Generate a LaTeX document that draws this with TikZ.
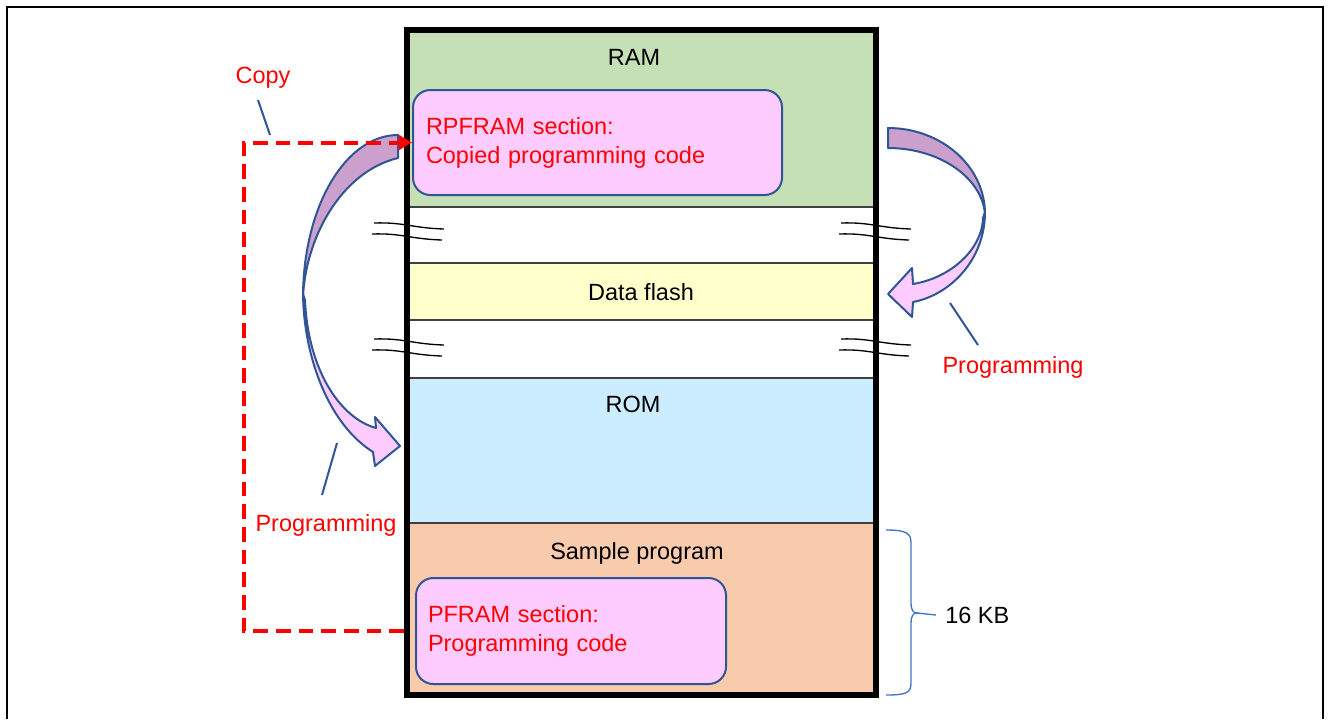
\documentclass[tikz,border=0pt]{standalone}
\usepackage{fontspec}
\setmainfont{Liberation Sans}
\usetikzlibrary{arrows.meta}

\definecolor{ramgreen}{RGB}{197,224,180}
\definecolor{flashyellow}{RGB}{255,255,204}
\definecolor{romblue}{RGB}{204,236,255}
\definecolor{progorange}{RGB}{248,203,173}
\definecolor{secpink}{RGB}{255,204,255}
\definecolor{bandpurple}{RGB}{204,160,204}
\definecolor{bandblue}{RGB}{47,85,151}
\definecolor{braceblue}{RGB}{68,114,196}
\definecolor{sepgray}{RGB}{64,64,64}

\begin{document}
\begin{tikzpicture}[x=0.75pt,y=0.75pt,yscale=-1,xscale=1,
  lbl/.style={inner sep=0.75pt,font=\fontsize{17.6}{21.75}\selectfont},
  redlbl/.style={lbl,text=red},
  secbox/.style={lbl,draw=bandblue,line width=1.5pt,fill=secpink,rounded corners=13pt,text=red,align=left},
  sepline/.style={draw=sepgray,line width=1.5pt},
  brk/.style={draw=black,line width=1pt},
  band/.style={draw=bandblue,line width=1.5pt,line join=round},
  callout/.style={draw=bandblue,line width=1.5pt},
  copyline/.style={draw=red,line width=3pt,dash pattern=on 11pt off 6pt,-{Triangle[length=10pt,width=11pt]}},
  kbbrace/.style={draw=braceblue,line width=1pt}]
\useasboundingbox (0,0) rectangle (1330,719);

% outer frame
\draw [line width=1.5pt] (7,719) -- (7,7) -- (1323,7) -- (1323,719);

%Shape: memory regions
\fill [ramgreen] (407,30) rectangle (876,207);
\fill [flashyellow] (407,263) rectangle (876,320);
\fill [romblue] (407,378) rectangle (876,523);
\fill [progorange] (407,523) rectangle (876,695);
\draw [sepline] (407,207) -- (876,207);
\draw [sepline] (407,263) -- (876,263);
\draw [sepline] (407,320) -- (876,320);
\draw [sepline] (407,378) -- (876,378);
\draw [sepline] (407,523) -- (876,523);

% break marks
\foreach \bx/\by in {374/223, 372/234, 374/339, 372/350, 841/223, 839/234, 841/339, 839/350}
  \draw [brk] (\bx,\by) .. controls ({\bx+30},{\by-1}) and ({\bx+38},{\by+5}) .. ({\bx+70},{\by+6});

%Shape: memory outline
\draw [line width=4.1pt] (407,30) rectangle (876,695);

% Text Node
\node [lbl] (ram) at (634,57) {RAM};
\node [lbl] (dflash) at (641,292) {Data flash};
\node [lbl] (rom) at (633,404) {ROM};
\node [lbl] (sample) at (637,553) {Sample program};

%Shape: section boxes
\node [secbox,text width=257.25pt,inner xsep=9.75pt,minimum height=78.75pt] (rpfram) at (597.5,142.5) {RPFRAM section:\\Copied programming code};
\node [secbox,text width=214.5pt,inner xsep=9pt,minimum height=79.5pt] (pfram) at (571,631) {PFRAM section:\\Programming code};

%Curve Arrow: left, flash to ROM
\draw [band,fill=secpink] (303,294) .. controls (304,360) and (330,425) .. (373,452) -- (375,466) -- (400,446) -- (375,417) -- (376,428) .. controls (340,418) and (308,370) .. (305,300) -- cycle;
\draw [band,fill=bandpurple] (398,135) .. controls (346,135) and (303,206) .. (303,298) .. controls (305,240) and (340,172) .. (398,158) -- cycle;

%Curve Arrow: right, to data flash
\draw [band,fill=secpink] (985,212) .. controls (985,260) and (950,295) .. (913,302) -- (912,317) -- (888,294) -- (912,268) -- (913,284) .. controls (950,278) and (982,250) .. (983,218) -- cycle;
\draw [band,fill=bandpurple] (888,128) .. controls (941,128) and (985,166) .. (985,214) .. controls (982,178) and (940,148) .. (888,148) -- cycle;

% copy path
\coordinate (cpy) at (244,0);
\draw [copyline] ([xshift=-8.25pt]pfram.west) -| (cpy |- rpfram.west) -- (rpfram.west);

% Text Node
\node [redlbl] (copy) at (263,78) {Copy};
\node [redlbl] (prgr) at (1013,367) {Programming};
\node [redlbl] (prgl) at (326,525) {Programming};

% callouts
\coordinate (copya) at (258,100);
\coordinate (copyb) at (270,135);
\coordinate (prgra) at (978,345);
\coordinate (prgrb) at (950,303);
\coordinate (prgla) at (322,495);
\coordinate (prglb) at (337,443);
\draw [callout] (copya) -- (copyb);
\draw [callout] (prgra) -- (prgrb);
\draw [callout] (prgla) -- (prglb);

% brace, 16 KB
\coordinate (kbtip) at (917,613);
\draw [kbbrace] (886,530) .. controls (906,530) and (911,533) .. (911,543) -- (911,602) .. controls (911,610) and (913,613) .. (kbtip) .. controls (913,613) and (911,616) .. (911,624) -- (911,683) .. controls (911,693) and (906,695) .. (886,695);
\node [lbl,anchor=west] (kb) at (944,615) {16 KB};
\draw [kbbrace] (kbtip) -- ([xshift=-6pt]kb.west);

\end{tikzpicture}
\end{document}
